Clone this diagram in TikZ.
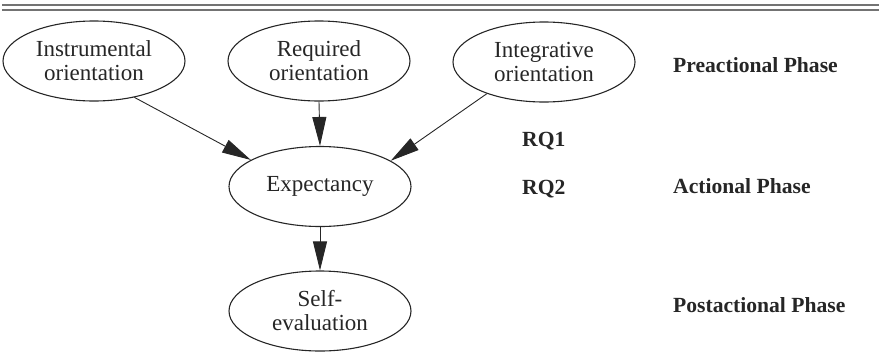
\documentclass[tikz,border=0pt]{standalone}
\usepackage{fontspec}
\setmainfont{Liberation Serif}
\usetikzlibrary{shapes.geometric,arrows.meta}
\tikzset{
  oval/.style={draw=black!85, line width=1.1pt, ellipse, minimum width=182pt, minimum height=80pt, inner sep=0pt, align=center, font=\fontsize{23}{24}\selectfont, text=black!85},
  phase/.style={anchor=base west, inner sep=0pt, font=\fontsize{21.6}{24}\selectfont\bfseries, text=black!85},
  link/.style={draw=black!85, line width=0.9pt, -{Triangle[length=29pt,width=14pt]}},
  rule/.style={draw=black!55, line width=1.6pt}
}
\begin{document}
\begin{tikzpicture}[x=1pt,y=-1pt]
\useasboundingbox (0,0) rectangle (879,362);
\coordinate (r1a) at (2,5);
\coordinate (r1b) at (879,5);
\coordinate (r2a) at (2,10);
\coordinate (r2b) at (879,10);
\draw[rule] (r1a) -- (r1b);
\draw[rule] (r2a) -- (r2b);
\node[oval] (ins) at (94,61) {Instrumental\\orientation};
\node[oval] (req) at (319,61) {Required\\orientation};
\node[oval] (int) at (544,62) {Integrative\\orientation};
\node[oval] (exp) at (320,186.5) {Expectancy};
\node[oval] (self) at (320,311) {Self-\\evaluation};
\node[phase] (pre) at (673,72) {Preactional Phase};
\node[phase] (rq1) at (522,146) {RQ1};
\node[phase] (rq2) at (522,194) {RQ2};
\node[phase] (act) at (673,193) {Actional Phase};
\node[phase] (post) at (673,312) {Postactional Phase};
\draw[link] (ins.-42.7) -- (exp.159.4);
\draw[link] (req.south) -- (exp.north);
\draw[link] (int.-151.4) -- (exp.20.6);
\draw[link] (exp.south) -- (self.north);
\end{tikzpicture}
\end{document}
